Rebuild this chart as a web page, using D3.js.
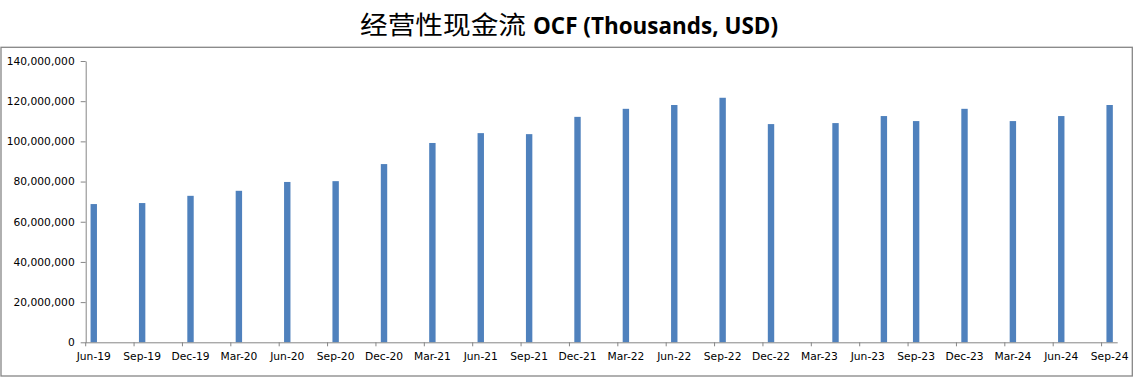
<!DOCTYPE html>
<html>
<head>
<meta charset="utf-8">
<script src="https://cdn.jsdelivr.net/npm/d3@7"></script>
<style>
  html, body { margin: 0; padding: 0; background: #fff; }
  svg { display: block; }
  .axis text { font-family: "DejaVu Sans", Tahoma, sans-serif; font-size: 10.7px; fill: #000; }
  .axis path, .axis line { stroke: #868686; }
</style>
</head>
<body>
<svg id="chart" width="1145" height="387"></svg>
<script>
// --- Données (période de publication -> OCF, milliers USD)
const periods = ['2019-06', '2019-09', '2019-12', '2020-03', '2020-06', '2020-09', '2020-12', '2021-03',
                 '2021-06', '2021-09', '2021-12', '2022-03', '2022-06', '2022-09', '2022-12', '2023-04',
                 '2023-07', '2023-09', '2023-12', '2024-03', '2024-06', '2024-09'];
const ocf = [68.8e6, 69.3e6, 72.9e6, 75.4e6, 79.8e6, 80.2e6, 88.7e6, 99.2e6,
             104.1e6, 103.6e6, 112.2e6, 116.2e6, 118.1e6, 121.7e6, 108.6e6, 109.1e6,
             112.6e6, 110.1e6, 116.2e6, 110.1e6, 112.6e6, 118.1e6];
const xTickLabels = ['Jun-19', 'Sep-19', 'Dec-19', 'Mar-20', 'Jun-20', 'Sep-20', 'Dec-20', 'Mar-21',
                     'Jun-21', 'Sep-21', 'Dec-21', 'Mar-22', 'Jun-22', 'Sep-22', 'Dec-22', 'Mar-23',
                     'Jun-23', 'Sep-23', 'Dec-23', 'Mar-24', 'Jun-24', 'Sep-24'];
const yTicks = [0, 20e6, 40e6, 60e6, 80e6, 100e6, 120e6, 140e6];

const svg = d3.select('#chart');
const W = 1145, H = 387;
const plot = { l: 85.7, r: 1117.7, t: 61, b: 342.3 };

// cadre du graphique
svg.append('rect')
  .attr('x', 1).attr('y', 47.3).attr('width', 1131.3).attr('height', 328.7)
  .attr('fill', 'none').attr('stroke', '#868686').attr('stroke-width', 1.3);

// titre
const title = svg.append('text').attr('x', 360).attr('y', 34).attr('fill', '#000');
title.append('tspan')
  .attr('font-family', '"Noto Sans CJK SC", sans-serif').attr('font-size', 25)
  .attr('textLength', 166).attr('lengthAdjust', 'spacingAndGlyphs')
  .text('经营性现金流');
title.append('tspan')
  .attr('x', 533)
  .attr('font-family', '"Open Sans", "DejaVu Sans", sans-serif').attr('font-weight', 'bold').attr('font-size', 23)
  .attr('textLength', 245).attr('lengthAdjust', 'spacingAndGlyphs')
  .text('OCF (Thousands, USD)');

// --- Échelles : axe de dates en mois (une case par mois)
const fmtKey = d3.timeFormat('%Y-%m');
const months = d3.timeMonth.range(new Date(2019, 5, 1), new Date(2024, 9, 1)).map(fmtKey);
const x = d3.scaleBand().domain(months).range([plot.l, plot.r]).padding(0);
const y = d3.scaleLinear().domain([0, 140e6]).range([plot.b, plot.t]);

const parseLabel = d3.timeParse('%b-%y');
const tickKeys = xTickLabels.map(s => fmtKey(parseLabel(s)));
const labelByKey = new Map(tickKeys.map((k, i) => [k, xTickLabels[i]]));

// barres
const barW = 6.4;
svg.append('g').selectAll('rect').data(periods).join('rect')
  .attr('x', (d) => x(d) + x.bandwidth() / 2 - barW / 2)
  .attr('y', (d, i) => y(ocf[i]))
  .attr('width', barW)
  .attr('height', (d, i) => y(0) - y(ocf[i]))
  .attr('fill', '#4F81BD');

// axe X
const gx = svg.append('g').attr('class', 'axis')
  .attr('transform', `translate(0,${plot.b})`)
  .call(d3.axisBottom(x).tickValues(tickKeys).tickFormat(k => labelByKey.get(k)).tickSize(4).tickSizeOuter(0).tickPadding(6));
// graduations sur le bord gauche de chaque case, libellé au centre
gx.selectAll('.tick line').attr('x1', -x.bandwidth() / 2).attr('x2', -x.bandwidth() / 2);
gx.select('.domain').attr('d', `M${plot.l},0.5H${plot.r}`);

// axe Y
svg.append('g').attr('class', 'axis')
  .attr('transform', `translate(${plot.l},0)`)
  .call(d3.axisLeft(y).tickValues(yTicks).tickFormat(d3.format(',')).tickSize(5).tickSizeOuter(0).tickPadding(6));
</script>
</body>
</html>
